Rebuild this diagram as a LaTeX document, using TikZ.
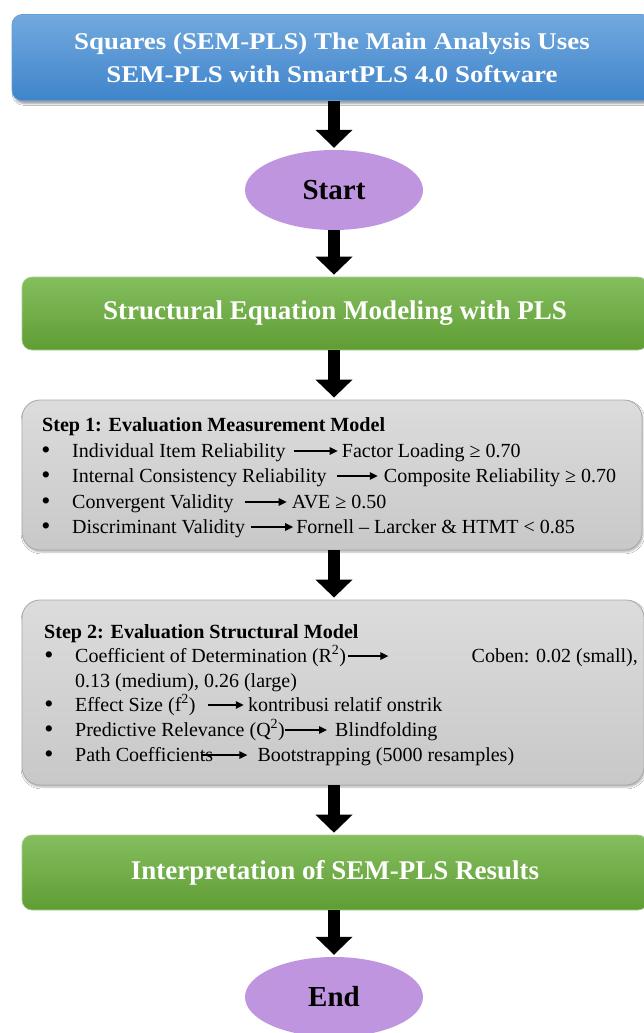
\documentclass[tikz,border=0pt]{standalone}
\usepackage{fontspec}
\setmainfont{Liberation Serif}
\newfontfamily\titlefont[FakeStretch=1.12]{Liberation Serif}
\usetikzlibrary{arrows.meta,shadows.blur,calc,shapes.geometric}
\definecolor{bluetop}{HTML}{72A9DE}
\definecolor{bluebot}{HTML}{3F84CB}
\definecolor{greentop}{HTML}{84BE5E}
\definecolor{greenbot}{HTML}{5F9D34}
\definecolor{graytop}{HTML}{DCDCDC}
\definecolor{graybot}{HTML}{C8C8C8}
\definecolor{grayedge}{HTML}{A9A9A9}
\definecolor{lilac}{HTML}{C095E0}
\begin{document}
\begin{tikzpicture}[x=1pt,y=-1pt,
  bigarrow/.style={line width=12pt,-{Triangle[length=18pt,width=36pt]},black,shorten >=2pt},
  txtarrow/.style={line width=1.4pt,-{Triangle[length=8pt,width=7.5pt]},black},
  bluebox/.style={rectangle,rounded corners=10pt,top color=bluetop,bottom color=bluebot,draw=bluebot!80!white,line width=0.6pt,
     blur shadow={shadow xshift=2pt,shadow yshift=-3pt,shadow blur steps=6,shadow opacity=40},
     text=white,align=center,inner sep=0pt},
  greenbox/.style={rectangle,rounded corners=10pt,top color=greentop,bottom color=greenbot,draw=greentop!70!white,line width=0.6pt,
     text=white,inner sep=0pt},
  graybox/.style={rectangle,rounded corners=18pt,top color=graytop,bottom color=graybot,draw=grayedge,line width=0.8pt,
     blur shadow={shadow xshift=1pt,shadow yshift=-2pt,shadow blur steps=5,shadow opacity=30},inner sep=0pt},
  oval/.style={ellipse,fill=lilac,inner sep=0pt,minimum width=178pt,minimum height=80pt,font=\fontsize{29}{32}\selectfont\bfseries},
  body/.style={anchor=base west,inner sep=0pt,font=\fontsize{20}{25}\selectfont},
  head/.style={anchor=base west,inner sep=0pt,font=\fontsize{20.1}{25}\selectfont\bfseries},
  bul/.style={anchor=base,inner sep=0pt,font=\fontsize{26}{25}\selectfont}
]
\useasboundingbox[fill=white] (0,0) rectangle (644,1033);

% main boxes
\node[bluebox,minimum width=640pt,minimum height=86pt,font=\titlefont\bfseries\fontsize{24}{33}\selectfont] (title) at (332,57.5)
  {Squares (SEM-PLS) The Main Analysis Uses\\SEM-PLS with SmartPLS 4.0 Software};
\node[oval] (start) at (334,190) {Start};
\node[greenbox,minimum width=626pt,minimum height=73pt,font=\fontsize{27}{30}\selectfont\bfseries] (sem) at (335,313.5)
  {Structural Equation Modeling with PLS};
\node[graybox,minimum width=620pt,minimum height=150pt] (step1) at (332,475) {};
\node[graybox,minimum width=622pt,minimum height=185pt] (step2) at (333,692.5) {};
\node[greenbox,minimum width=626pt,minimum height=75pt,font=\fontsize{27}{30}\selectfont\bfseries] (interp) at (335,872.5)
  {Interpretation of SEM-PLS Results};
\node[oval] (end) at (334,997) {End};

% connectors between stages
\draw[bigarrow] (title.south -| start.north) -- (start.north);
\draw[bigarrow] (start.south) -- (sem.north -| start.south);
\draw[bigarrow] (sem.south -| start.south) -- (step1.north -| start.south);
\draw[bigarrow] (step1.south -| start.south) -- (step2.north -| start.south);
\draw[bigarrow] (step2.south -| start.south) -- (interp.north -| start.south);
\draw[bigarrow] (interp.south -| end.north) -- (end.north);

% Step 1 text
\node[head] (h1) at (42,431) {Step 1: Evaluation Measurement Model};
\node[bul] (b11) at (46,458) {\textbullet};
\node[bul] (b12) at (46,483) {\textbullet};
\node[bul] (b13) at (46,509) {\textbullet};
\node[bul] (b14) at (46,534) {\textbullet};
\node[body] (l11) at (72,457) {Individual Item Reliability};
\node[body] (r11) at ($(l11.base east)+(56,0)$) {Factor Loading ≥ 0.70};
\node[body] (l12) at (72,482) {Internal Consistency Reliability};
\node[body] (r12) at ($(l12.base east)+(57,0)$) {Composite Reliability ≥ 0.70};
\node[body] (l13) at (72,508) {Convergent Validity};
\node[body] (r13) at ($(l13.base east)+(58,0)$) {AVE ≥ 0.50};
\node[body] (l14) at (72,533) {Discriminant Validity};
\node[body] (r14) at ($(l14.base east)+(51,0)$) {Fornell – Larcker \& HTMT < 0.85};
\draw[txtarrow] ($(l11.base east)+(8,-6)$) -- ($(r11.base west)+(-4,-6)$);
\draw[txtarrow] ($(l12.base east)+(10,-6)$) -- ($(r12.base west)+(-6,-6)$);
\draw[txtarrow] ($(l13.base east)+(11,-6)$) -- ($(r13.base west)+(-5,-6)$);
\draw[txtarrow] ($(l14.base east)+(6,-6)$) -- ($(r14.base west)+(-3,-6)$);

% Step 2 text
\node[head] (h2) at (44,638) {Step 2: Evaluation Structural Model};
\node[bul] (b21) at (49,663) {\textbullet};
\node[bul] (b22) at (49,712) {\textbullet};
\node[bul] (b23) at (49,737) {\textbullet};
\node[bul] (b24) at (49,762) {\textbullet};
\node[body] (l21) at (75,662) {Coefficient of Determination (R\textsuperscript{2})};
\node[body,anchor=base east] (r21) at (638,662) {Coben: 0.02 (small),};
\node[body] (l21b) at (75,687) {0.13 (medium), 0.26 (large)};
\node[body] (l22) at (75,711) {Effect Size (f\textsuperscript{2})};
\node[body] (r22) at ($(l22.base east)+(52,0)$) {kontribusi relatif onstrik};
\node[body] (l23) at (75,736) {Predictive Relevance (Q\textsuperscript{2})};
\node[body] (r23) at ($(l23.base east)+(50,0)$) {Blindfolding};
\node[body] (l24) at (75,761) {Path Coefficients};
\node[body] (r24) at ($(l24.base east)+(44,0)$) {Bootstrapping (5000 resamples)};
\draw[txtarrow] ($(l21.base east)+(2,-6)$) -- ++(40,0) coordinate (a21);
\draw[txtarrow] ($(l22.base east)+(12,-6)$) -- ($(r22.base west)+(-4,-6)$);
\draw[txtarrow] ($(l23.base east)+(0,-6)$) -- ($(r23.base west)+(-8,-6)$);
\draw[txtarrow] ($(l24.base east)+(-12,-6)$) -- ($(r24.base west)+(-10,-6)$);
\end{tikzpicture}
\end{document}
